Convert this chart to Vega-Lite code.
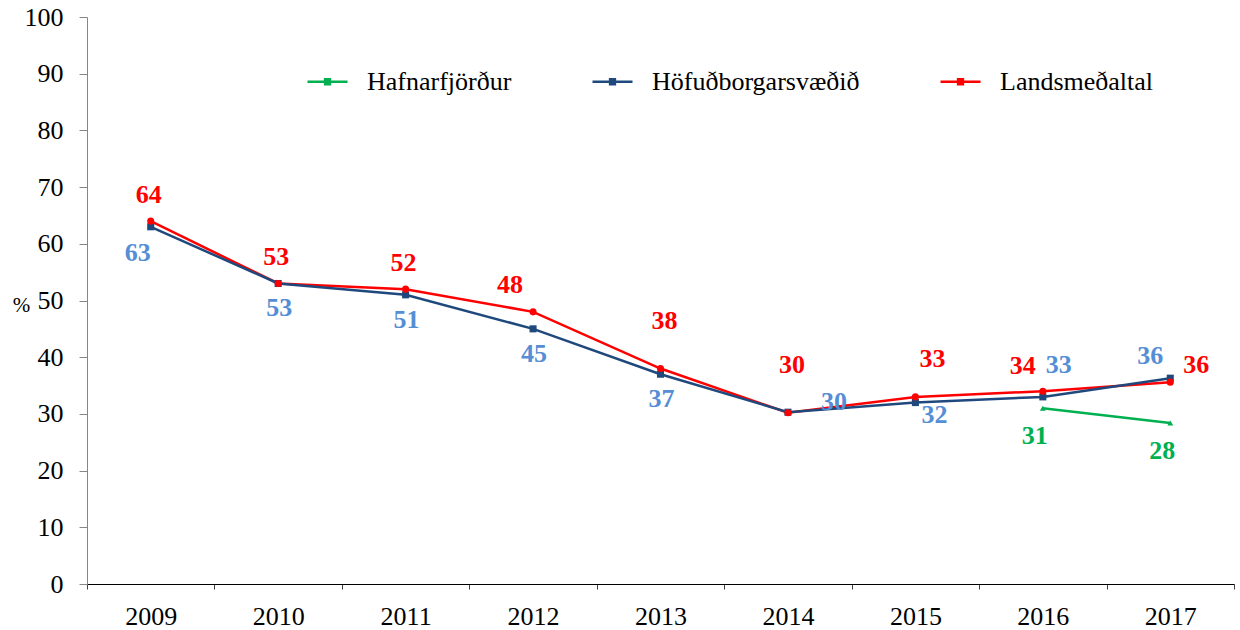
{
  "$schema": "https://vega.github.io/schema/vega-lite/v6.json",
  "width": 1147,
  "height": 567,
  "autosize": {"type": "none"},
  "padding": {"left": 87, "top": 17, "right": 6, "bottom": 46},
  "background": "white",
  "config": {
    "view": {"stroke": null},
    "font": "Liberation Serif",
    "axis": {"labelFont": "Liberation Serif", "labelFontSize": 26, "labelColor": "#000000", "grid": false, "titleFont": "Liberation Serif"},
    "legend": {"labelFont": "Liberation Serif", "labelFontSize": 26, "labelColor": "#000000", "labelLimit": 0}
  },
  "data": {
    "values": [
      {"year": "2009", "series": "Landsmeðaltal", "value": 64},
      {"year": "2010", "series": "Landsmeðaltal", "value": 53},
      {"year": "2011", "series": "Landsmeðaltal", "value": 52},
      {"year": "2012", "series": "Landsmeðaltal", "value": 48},
      {"year": "2013", "series": "Landsmeðaltal", "value": 38},
      {"year": "2014", "series": "Landsmeðaltal", "value": 30.2},
      {"year": "2015", "series": "Landsmeðaltal", "value": 33},
      {"year": "2016", "series": "Landsmeðaltal", "value": 34},
      {"year": "2017", "series": "Landsmeðaltal", "value": 35.6},
      {"year": "2009", "series": "Höfuðborgarsvæðið", "value": 63},
      {"year": "2010", "series": "Höfuðborgarsvæðið", "value": 53},
      {"year": "2011", "series": "Höfuðborgarsvæðið", "value": 51},
      {"year": "2012", "series": "Höfuðborgarsvæðið", "value": 45},
      {"year": "2013", "series": "Höfuðborgarsvæðið", "value": 37},
      {"year": "2014", "series": "Höfuðborgarsvæðið", "value": 30.3},
      {"year": "2015", "series": "Höfuðborgarsvæðið", "value": 32},
      {"year": "2016", "series": "Höfuðborgarsvæðið", "value": 33},
      {"year": "2017", "series": "Höfuðborgarsvæðið", "value": 36.3},
      {"year": "2016", "series": "Hafnarfjörður", "value": 31},
      {"year": "2017", "series": "Hafnarfjörður", "value": 28.4}
    ]
  },
  "encoding": {
    "x": {"field": "year", "type": "ordinal", "scale": {"paddingInner": 0, "paddingOuter": 0},
      "axis": {"title": null, "labelAngle": 0, "tickBand": "extent", "domainColor": "#000000", "tickColor": "#404040", "tickSize": 5, "labelPadding": 14}},
    "y": {"field": "value", "type": "quantitative", "scale": {"domain": [0, 100], "nice": false},
      "axis": {"title": "%", "titleAngle": 0, "titleFontWeight": "normal", "titleFontSize": 21, "titleX": -66, "titleY": 288, "titleBaseline": "middle", "titleAlign": "center",
        "values": [0, 10, 20, 30, 40, 50, 60, 70, 80, 90, 100], "domainColor": "#868686", "tickColor": "#868686", "tickSize": 8, "labelPadding": 16}}
  },
  "layer": [
    {
      "mark": {"type": "line", "strokeWidth": 2.5},
      "encoding": {
        "color": {"field": "series", "type": "nominal",
          "scale": {"domain": ["Hafnarfjörður", "Höfuðborgarsvæðið", "Landsmeðaltal"], "range": ["#00B050", "#1F497D", "#FF0000"]},
          "legend": {"title": null, "orient": "none", "direction": "horizontal", "legendX": 219, "legendY": 43,
            "symbolType": "M-1,0H1M-0.12,-0.12H0.12V0.12H-0.12Z",
            "symbolSize": 1600, "symbolStrokeWidth": 2.5, "labelOffset": 18, "columnPadding": 75, "padding": 0}
        }
      }
    },
    {
      "transform": [{"filter": "datum.series === 'Hafnarfjörður'"}],
      "mark": {"type": "point", "filled": true, "opacity": 1, "size": 35, "shape": "triangle-up"},
      "encoding": {"color": {"field": "series", "type": "nominal", "legend": null}}
    },
    {
      "transform": [{"filter": "datum.series === 'Höfuðborgarsvæðið'"}],
      "mark": {"type": "point", "filled": true, "opacity": 1, "size": 50, "shape": "square"},
      "encoding": {"color": {"field": "series", "type": "nominal", "legend": null}}
    },
    {
      "transform": [{"filter": "datum.series === 'Landsmeðaltal'"}],
      "mark": {"type": "point", "filled": true, "opacity": 1, "size": 50, "shape": "circle"},
      "encoding": {"color": {"field": "series", "type": "nominal", "legend": null}}
    },
    {
      "transform": [{"filter": "datum.series === 'Landsmeðaltal' && indexof(['2009','2010','2011'], datum.year) >= 0"}],
      "mark": {"type": "text", "fontSize": 26, "fontWeight": "bold", "color": "#FF0000", "dx": -2, "dy": -26, "baseline": "middle"},
      "encoding": {"text": {"field": "value", "format": ".0f"}}
    },
    {
      "transform": [{"filter": "datum.series === 'Landsmeðaltal' && datum.year === '2012'"}],
      "mark": {"type": "text", "fontSize": 26, "fontWeight": "bold", "color": "#FF0000", "dx": -23, "dy": -27, "baseline": "middle"},
      "encoding": {"text": {"field": "value", "format": ".0f"}}
    },
    {
      "transform": [{"filter": "datum.series === 'Landsmeðaltal' && indexof(['2013','2014'], datum.year) >= 0"}],
      "mark": {"type": "text", "fontSize": 26, "fontWeight": "bold", "color": "#FF0000", "dx": 4, "dy": -48, "baseline": "middle"},
      "encoding": {"text": {"field": "value", "format": ".0f"}}
    },
    {
      "transform": [{"filter": "datum.series === 'Landsmeðaltal' && datum.year === '2015'"}],
      "mark": {"type": "text", "fontSize": 26, "fontWeight": "bold", "color": "#FF0000", "dx": 17, "dy": -38, "baseline": "middle"},
      "encoding": {"text": {"field": "value", "format": ".0f"}}
    },
    {
      "transform": [{"filter": "datum.series === 'Landsmeðaltal' && datum.year === '2016'"}],
      "mark": {"type": "text", "fontSize": 26, "fontWeight": "bold", "color": "#FF0000", "dx": -20, "dy": -25, "baseline": "middle"},
      "encoding": {"text": {"field": "value", "format": ".0f"}}
    },
    {
      "transform": [{"filter": "datum.series === 'Landsmeðaltal' && datum.year === '2017'"}],
      "mark": {"type": "text", "fontSize": 26, "fontWeight": "bold", "color": "#FF0000", "dx": 26, "dy": -17, "baseline": "middle"},
      "encoding": {"text": {"field": "value", "format": ".0f"}}
    },
    {
      "transform": [{"filter": "datum.series === 'Höfuðborgarsvæðið' && indexof(['2010','2011','2012','2013'], datum.year) >= 0"}],
      "mark": {"type": "text", "fontSize": 26, "fontWeight": "bold", "color": "#558ED5", "dx": 1, "dy": 25, "baseline": "middle"},
      "encoding": {"text": {"field": "value", "format": ".0f"}}
    },
    {
      "transform": [{"filter": "datum.series === 'Höfuðborgarsvæðið' && datum.year === '2009'"}],
      "mark": {"type": "text", "fontSize": 26, "fontWeight": "bold", "color": "#558ED5", "dx": -13, "dy": 26, "baseline": "middle"},
      "encoding": {"text": {"field": "value", "format": ".0f"}}
    },
    {
      "transform": [{"filter": "datum.series === 'Höfuðborgarsvæðið' && datum.year === '2014'"}],
      "mark": {"type": "text", "fontSize": 26, "fontWeight": "bold", "color": "#558ED5", "dx": 46, "dy": -10, "baseline": "middle"},
      "encoding": {"text": {"field": "value", "format": ".0f"}}
    },
    {
      "transform": [{"filter": "datum.series === 'Höfuðborgarsvæðið' && datum.year === '2015'"}],
      "mark": {"type": "text", "fontSize": 26, "fontWeight": "bold", "color": "#558ED5", "dx": 19, "dy": 12, "baseline": "middle"},
      "encoding": {"text": {"field": "value", "format": ".0f"}}
    },
    {
      "transform": [{"filter": "datum.series === 'Höfuðborgarsvæðið' && datum.year === '2016'"}],
      "mark": {"type": "text", "fontSize": 26, "fontWeight": "bold", "color": "#558ED5", "dx": 16, "dy": -32, "baseline": "middle"},
      "encoding": {"text": {"field": "value", "format": ".0f"}}
    },
    {
      "transform": [{"filter": "datum.series === 'Höfuðborgarsvæðið' && datum.year === '2017'"}],
      "mark": {"type": "text", "fontSize": 26, "fontWeight": "bold", "color": "#558ED5", "dx": -20, "dy": -22, "baseline": "middle"},
      "encoding": {"text": {"field": "value", "format": ".0f"}}
    },
    {
      "transform": [{"filter": "datum.series === 'Hafnarfjörður'"}],
      "mark": {"type": "text", "fontSize": 26, "fontWeight": "bold", "color": "#00B050", "dx": -8, "dy": 28, "baseline": "middle"},
      "encoding": {"text": {"field": "value", "format": ".0f"}}
    }
  ]
}
